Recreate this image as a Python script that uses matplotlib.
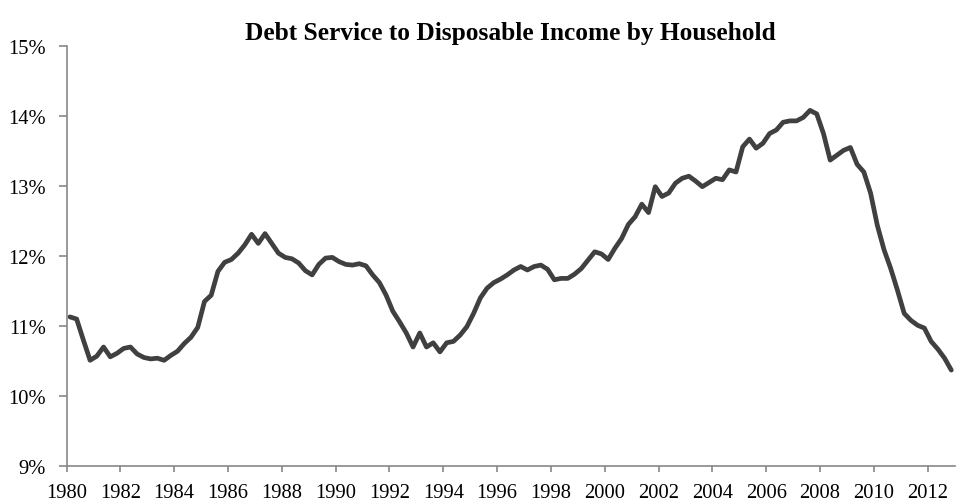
import matplotlib
matplotlib.use('Agg')
import matplotlib.pyplot as plt
import numpy as np

# 季度数据 1980Q1 - 2012Q4 (单位: %)
start_year = 1980
debt_service = [
    11.13, 11.10, 10.80, 10.51, 10.57, 10.70, 10.56, 10.61, 10.68, 10.70,
    10.60, 10.55, 10.53, 10.54, 10.51, 10.58, 10.64, 10.75, 10.84, 10.98,
    11.35, 11.44, 11.78, 11.91, 11.95, 12.04, 12.16, 12.31, 12.18, 12.32,
    12.18, 12.04, 11.98, 11.96, 11.90, 11.79, 11.73, 11.88, 11.97, 11.98,
    11.92, 11.88, 11.87, 11.89, 11.86, 11.73, 11.62, 11.44, 11.21, 11.06,
    10.90, 10.70, 10.90, 10.70, 10.76, 10.63, 10.76, 10.78, 10.87, 10.99,
    11.18, 11.40, 11.54, 11.62, 11.67, 11.73, 11.80, 11.85, 11.80, 11.85,
    11.87, 11.81, 11.66, 11.68, 11.68, 11.74, 11.82, 11.94, 12.06, 12.03,
    11.95, 12.11, 12.25, 12.45, 12.56, 12.74, 12.62, 12.99, 12.85, 12.90,
    13.04, 13.11, 13.14, 13.07, 12.99, 13.05, 13.11, 13.09, 13.23, 13.20,
    13.56, 13.67, 13.54, 13.61, 13.75, 13.80, 13.91, 13.93, 13.93, 13.98,
    14.08, 14.03, 13.75, 13.37, 13.44, 13.51, 13.55, 13.31, 13.20, 12.90,
    12.44, 12.09, 11.82, 11.51, 11.18, 11.08, 11.01, 10.97, 10.78, 10.67,
    10.54, 10.37,
]
year_ticks = list(range(1980, 2013, 2))
pct_ticks = [9, 10, 11, 12, 13, 14, 15]

plt.rcParams['font.family'] = ['Liberation Serif', 'DejaVu Serif']

fig = plt.figure(figsize=(9.56, 5.02), dpi=100)
ax = fig.add_axes([0.0696, 0.0697, 0.929, 0.8367])

# 每个季度点位于类别中心
x = start_year + np.arange(len(debt_service)) / 4 + 0.125
ax.plot(x, debt_service, color='#404040', linewidth=3.4,
        solid_joinstyle='round', solid_capstyle='round')

ax.set_xlim(1980, 2013)
ax.set_ylim(9, 15)
ax.set_xticks(year_ticks)
ax.set_xticklabels([str(y) for y in year_ticks])
ax.set_yticks(pct_ticks)
ax.set_yticklabels([f'{p}%' for p in pct_ticks])

for side in ['top', 'right']:
    ax.spines[side].set_visible(False)
for side in ['left', 'bottom']:
    ax.spines[side].set_color('#888888')
    ax.spines[side].set_linewidth(1.2)
ax.tick_params(axis='both', colors='#888888', width=1.2,
               labelsize=14.8, labelcolor='black')
ax.tick_params(axis='y', length=6, pad=9)
ax.tick_params(axis='x', length=4, pad=8)

ax.set_title('Debt Service to Disposable Income by Household',
             fontsize=18.3, fontweight='bold', pad=5)

plt.savefig('out.png', dpi=100)
plt.close()
